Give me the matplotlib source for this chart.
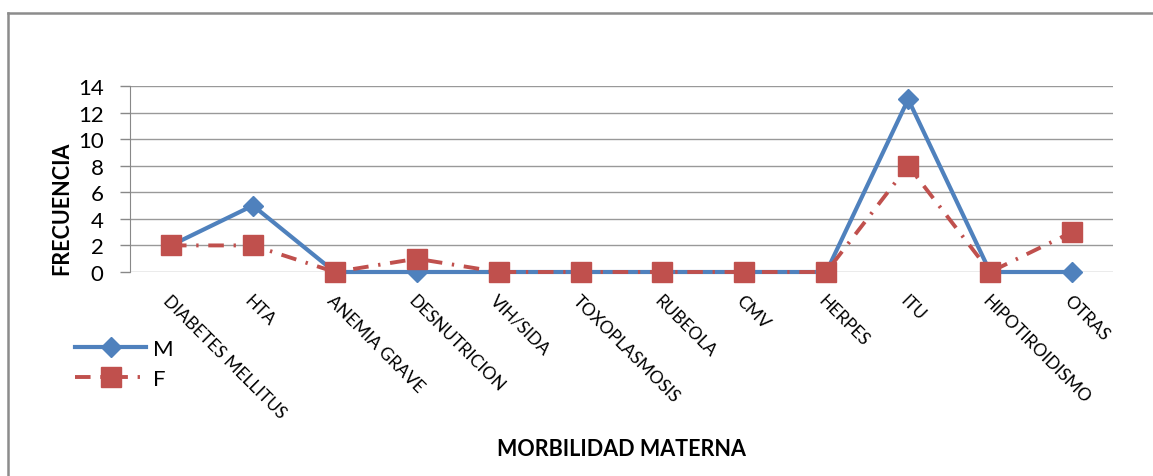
import matplotlib.pyplot as plt
from matplotlib.lines import Line2D

categorias = ['DIABETES MELLITUS', 'HTA', 'ANEMIA GRAVE', 'DESNUTRICION', 'VIH/SIDA',
              'TOXOPLASMOSIS', 'RUBEOLA', 'CMV', 'HERPES', 'ITU', 'HIPOTIROIDISMO', 'OTRAS']
serie_m = [2, 5, 0, 0, 0, 0, 0, 0, 0, 13, 0, 0]
serie_f = [2, 2, 0, 1, 0, 0, 0, 0, 0, 8, 0, 3]
yticks = [0, 2, 4, 6, 8, 10, 12, 14]

plt.rcParams['font.family'] = ['Lato', 'DejaVu Sans']

W, H = 1153, 477
fig = plt.figure(figsize=(W / 100, H / 100), dpi=100)
ax = fig.add_axes([130 / W, 1 - 273 / H, (1113 - 130) / W, (273 - 87) / H])

x = list(range(len(categorias)))
ax.plot(x, serie_m, color='#4F81BD', lw=3, marker='D', ms=10, label='M', zorder=3, clip_on=False)
ax.plot(x, serie_f, color='#C0504D', lw=2.8, marker='s', ms=14, label='F',
        dashes=(4, 2.5, 0.6, 2.5), zorder=4, clip_on=False)

ax.set_xlim(-0.5, len(categorias) - 0.5)
ax.set_ylim(0, 14)
ax.set_yticks(yticks)
ax.tick_params(axis='y', labelsize=16, length=7, color='#888888', pad=12, width=1)
ax.set_xticks(x)
ax.set_xticklabels(categorias, rotation=-45, ha='left', va='top', rotation_mode='anchor', fontsize=12.5)
ax.tick_params(axis='x', length=0, pad=14)
ax.grid(axis='y', color='#999999', lw=1)
ax.set_axisbelow(True)
for s in ['top', 'right', 'bottom']:
    ax.spines[s].set_visible(False)
ax.spines['left'].set_color('#888888')

fig.text(62 / W, 1 - 208 / H, 'FRECUENCIA', rotation=90, ha='center', va='center',
         fontsize=15.5, fontweight='bold')
fig.text(621 / W, 1 - 450 / H, 'MORBILIDAD MATERNA', ha='center', va='center',
         fontsize=15.5, fontweight='bold')

fig.legend(loc='upper left', bbox_to_anchor=(55 / W, 1 - 320 / H), frameon=False,
           fontsize=16, handlelength=3.2, handletextpad=0.3, labelspacing=0.45)

# marco gris
fig.add_artist(Line2D([8 / W, 1], [1 - 14 / H, 1 - 14 / H], color='#8c8c8c', lw=1.8))
fig.add_artist(Line2D([8 / W, 8 / W], [0, 1 - 14 / H], color='#8c8c8c', lw=1.8))

fig.savefig('out.png', dpi=100)
